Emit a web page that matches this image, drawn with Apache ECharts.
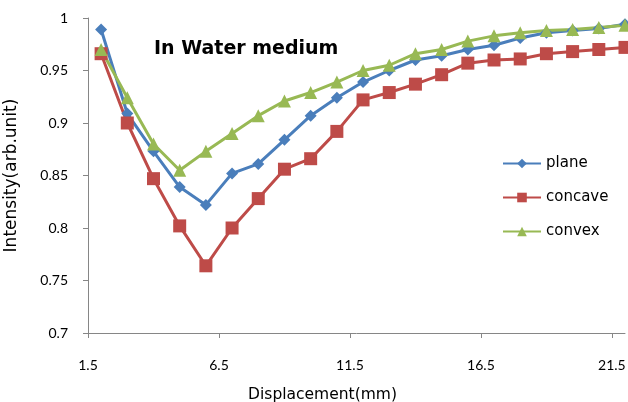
<!DOCTYPE html>
<html>
<head>
<meta charset="utf-8">
<script src="https://cdn.jsdelivr.net/npm/echarts@6/dist/echarts.min.js"></script>
<style>html,body{margin:0;padding:0;background:#fff}#c{width:628px;height:402px}</style>
</head>
<body>
<div id="c"></div>
<script>
var displacement = [2,3,4,5,6,7,8,9,10,11,12,13,14,15,16,17,18,19,20,21,22];
var plane   = [0.989,0.909,0.873,0.839,0.822,0.852,0.861,0.884,0.907,0.924,0.939,0.950,0.960,0.964,0.970,0.974,0.981,0.986,0.988,0.990,0.994];
var concave = [0.966,0.900,0.847,0.802,0.764,0.800,0.828,0.856,0.866,0.892,0.922,0.929,0.937,0.946,0.957,0.960,0.961,0.966,0.968,0.970,0.972];
var convex  = [0.970,0.924,0.880,0.855,0.873,0.890,0.907,0.921,0.929,0.939,0.950,0.955,0.966,0.970,0.978,0.983,0.986,0.988,0.989,0.991,0.993];
var xTicks = [1.5,6.5,11.5,16.5,21.5];
var seriesNames = ['plane','concave','convex'];

var TICKFONT = 'Lato';
var TEXTFONT = 'DejaVu Sans';
function pairs(vals){ return displacement.map(function(x,i){return [x, vals[i]];}); }
var chart = echarts.init(document.getElementById('c'), null, {renderer:'canvas'});
chart.setOption({
  animation:false,
  backgroundColor:'#fff',
  textStyle:{fontFamily:TEXTFONT},
  title:{text:'In Water medium', left:149, top:35,
    textStyle:{fontFamily:TEXTFONT, fontWeight:'bold', fontSize:19, color:'#000'}},
  legend:{orient:'vertical', left:497, top:151, itemGap:19, itemWidth:38, itemHeight:12,
    data:seriesNames,
    textStyle:{fontFamily:TEXTFONT, fontSize:15, color:'#000'}},
  grid:{left:88, right:3, top:18, bottom:69, containLabel:false, outerBoundsMode:'none'},
  xAxis:{type:'value', min:1.5, max:22,
    name:'Displacement(mm)', nameLocation:'middle', nameGap:54,
    nameTextStyle:{fontFamily:TEXTFONT, fontSize:15.5, color:'#000', padding:[0,68,0,0]},
    axisLine:{lineStyle:{color:'#868686', width:1}},
    axisTick:{show:true, length:5, lineStyle:{color:'#868686'}, customValues:xTicks},
    axisLabel:{customValues:xTicks, color:'#000', fontSize:14, margin:25, fontFamily:TICKFONT},
    splitLine:{show:false}},
  yAxis:{type:'value', min:0.7, max:1, interval:0.05,
    name:'Intensity(arb.unit)', nameLocation:'middle', nameGap:68,
    nameTextStyle:{fontFamily:TEXTFONT, fontSize:17, color:'#000'},
    axisLine:{show:true, lineStyle:{color:'#868686', width:1}},
    axisTick:{show:true, length:5, lineStyle:{color:'#868686'}},
    axisLabel:{color:'#000', fontSize:14, margin:20, fontFamily:TICKFONT},
    splitLine:{show:false}},
  series:[
    {name:'plane', type:'line', data:pairs(plane), symbol:'diamond', symbolSize:12,
      itemStyle:{color:'#4A7EBB'}, lineStyle:{width:3, color:'#4A7EBB'}},
    {name:'concave', type:'line', data:pairs(concave), symbol:'rect', symbolSize:13,
      itemStyle:{color:'#BE4B48'}, lineStyle:{width:3, color:'#BE4B48'}},
    {name:'convex', type:'line', data:pairs(convex), symbol:'triangle', symbolSize:13,
      itemStyle:{color:'#98B954'}, lineStyle:{width:3, color:'#98B954'}}
  ]
});
</script>
</body>
</html>
